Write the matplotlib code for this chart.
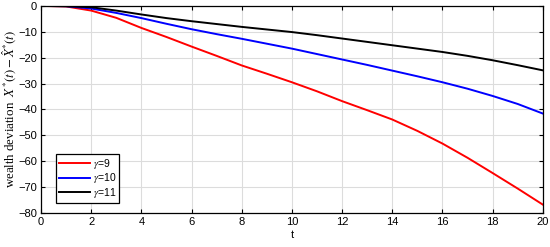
import matplotlib
matplotlib.use("Agg")
import matplotlib.pyplot as plt

t = list(range(0, 21))
red_g9 = [0, -0.2, -1.8, -4.6, -8.5, -12.0, -15.7, -19.3, -23.0, -26.2, -29.5,
          -33.0, -36.8, -40.3, -43.9, -48.3, -53.2, -58.7, -64.6, -70.6, -76.8]
blue_g10 = [0, -0.1, -1.0, -2.7, -4.7, -6.9, -9.0, -10.9, -12.7, -14.6, -16.5,
            -18.6, -20.7, -22.8, -25.0, -27.2, -29.5, -32.0, -34.8, -37.9, -41.6]
black_g11 = [0, -0.1, -0.5, -1.8, -3.3, -4.7, -5.9, -7.0, -8.1, -9.1, -10.1,
             -11.3, -12.6, -13.9, -15.2, -16.5, -17.8, -19.3, -21.0, -22.9, -24.9]
labels = [r"$\gamma$=9", r"$\gamma$=10", r"$\gamma$=11"]
xticks = list(range(0, 21, 2))
yticks = list(range(-80, 1, 10))

plt.rcParams['font.family'] = ['Liberation Sans', 'DejaVu Sans']
plt.rcParams['mathtext.fontset'] = 'stix'

fig = plt.figure(figsize=(5.5, 2.47), dpi=100)
ax = fig.add_axes([0.0745, 0.138, 0.9125, 0.838])

ax.plot(t, red_g9, color='#ff0000', lw=1.4, label=labels[0])
ax.plot(t, blue_g10, color='#0000ff', lw=1.4, label=labels[1])
ax.plot(t, black_g11, color='#000000', lw=1.4, label=labels[2])

ax.set_xlim(0, 20)
ax.set_ylim(-80, 0)
ax.set_xticks(xticks)
ax.set_yticks(yticks)
ax.grid(True, color='#dcdcdc', lw=0.8)
ax.set_axisbelow(True)
ax.tick_params(direction='in', top=True, right=True, labelsize=8, length=3, width=0.8, pad=3)
for s in ax.spines.values():
    s.set_linewidth(0.9)

ax.set_xlabel('t', fontsize=8, labelpad=2)
ax.set_ylabel(r'wealth deviation  $X^{*}(t)-\hat{X}^{*}(t)$', fontsize=9.3,
              family=['Liberation Serif', 'DejaVu Serif'])
ax.yaxis.set_label_coords(-0.043, 0.5)

leg = ax.legend(loc='lower left', bbox_to_anchor=(0.03, 0.05), fontsize=7.5,
                frameon=True, fancybox=False, edgecolor='black', framealpha=1,
                handlelength=3.0, borderpad=0.25, labelspacing=0.05,
                handletextpad=0.3, borderaxespad=0)
leg.get_frame().set_linewidth(0.9)

fig.savefig('out.png', dpi=100)
